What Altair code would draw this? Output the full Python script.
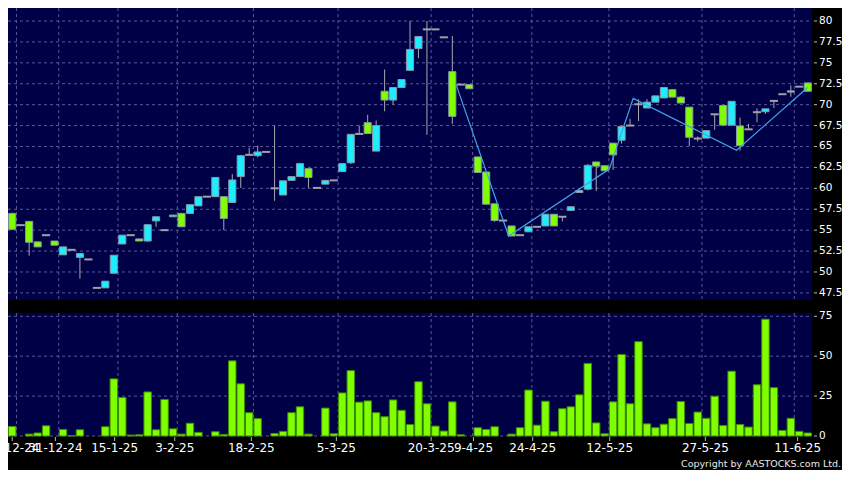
import altair as alt
import pandas as pd

# ---------------- data ----------------
opens = [57.0, 55.6, 56.05, 53.6, 54.4, 53.7, 52.05, 52.65, 51.75, 51.5,
         48.1, 48.1, 49.85, 53.35, 54.4, 53.95, 53.7, 56.1, 55.0, 56.6,
         57.0, 57.0, 57.9, 59.0, 59.0, 59.0, 58.3, 61.4, 64.0, 63.9,
         64.35, 60.0, 59.2, 60.95, 61.4, 62.35, 60.05, 60.5, 60.95, 62.0,
         63.05, 66.5, 67.85, 64.45, 71.6, 70.55, 72.05, 74.1, 76.7, 79.0,
         79.0, 78.05, 73.95, 72.4, 72.4, 63.75, 61.95, 58.15, 56.15, 55.5,
         54.4, 54.8, 55.4, 55.5, 56.9, 56.6, 57.35, 59.5, 59.9, 63.15,
         62.7, 65.4, 65.75, 67.5, 70.05, 69.6, 70.3, 70.8, 71.8, 70.9,
         69.7, 65.95, 66.0, 68.85, 69.9, 67.55, 67.45, 67.05, 69.1, 69.15,
         70.45, 71.25, 71.65, 72.15, 72.6]
closes = [55.1, 55.6, 53.55, 53.0, 54.4, 53.2, 53.0, 52.65, 52.2, 51.5,
          48.1, 48.9, 52.0, 54.4, 54.4, 53.7, 55.65, 56.6, 55.0, 56.8,
          55.4, 58.05, 59.0, 59.0, 61.3, 56.4, 61.0, 63.9, 64.0, 64.35,
          64.35, 60.0, 60.9, 61.4, 62.95, 61.3, 60.05, 60.95, 60.95, 62.95,
          66.45, 66.5, 66.55, 67.5, 70.55, 72.05, 73.0, 76.6, 78.15, 79.0,
          79.0, 78.05, 68.6, 72.4, 71.9, 61.9, 58.1, 56.15, 56.15, 54.3,
          54.4, 55.4, 55.4, 56.9, 55.5, 56.6, 57.8, 59.75, 62.75, 62.65,
          62.1, 64.0, 67.4, 67.5, 70.05, 70.3, 71.05, 72.05, 70.9, 70.2,
          66.1, 65.95, 66.9, 68.85, 67.55, 70.4, 65.1, 67.05, 69.1, 69.5,
          70.45, 71.25, 71.5, 72.15, 71.6]
highs = [57.1, 55.6, 56.05, 53.6, 54.4, 53.7, 53.0, 52.65, 52.2, 51.5,
         48.1, 48.9, 52.0, 54.4, 54.4, 53.95, 55.65, 56.6, 55.0, 56.8,
         57.0, 58.05, 59.0, 59.0, 61.3, 59.0, 61.7, 64.0, 64.85, 65.1,
         64.35, 67.5, 60.9, 61.4, 62.95, 62.35, 60.05, 60.95, 60.95, 62.95,
         66.45, 67.5, 68.8, 68.1, 74.2, 72.05, 73.0, 80.0, 78.15, 80.0,
         79.0, 78.05, 78.2, 72.4, 72.4, 63.75, 61.95, 58.15, 56.15, 55.5,
         54.4, 55.4, 55.4, 56.9, 56.9, 56.6, 57.8, 59.75, 62.9, 63.15,
         62.7, 65.4, 67.4, 68.3, 70.65, 70.65, 71.05, 72.05, 71.8, 71.0,
         69.7, 66.2, 66.9, 68.85, 69.9, 70.4, 68.45, 67.7, 69.55, 69.5,
         70.45, 71.25, 72.3, 72.15, 72.6]
lows = [55.0, 55.6, 51.95, 53.0, 54.4, 53.2, 52.05, 52.65, 49.2, 51.5,
        48.1, 48.1, 49.85, 53.35, 54.4, 53.7, 53.6, 55.4, 55.0, 56.6,
        55.4, 57.0, 57.9, 59.0, 59.0, 55.0, 58.3, 60.05, 64.0, 63.7,
        64.35, 58.5, 59.2, 60.95, 61.4, 60.05, 60.05, 60.5, 60.95, 62.0,
        62.9, 66.5, 66.55, 64.45, 69.2, 70.0, 72.05, 74.1, 75.55, 66.4,
        79.0, 78.05, 67.7, 72.4, 71.9, 61.9, 58.1, 56.0, 56.15, 54.3,
        54.4, 54.8, 55.4, 55.5, 55.5, 56.05, 57.35, 59.5, 59.75, 59.7,
        62.1, 62.2, 65.35, 67.5, 68.05, 69.6, 70.3, 70.8, 70.9, 70.2,
        65.05, 65.6, 66.0, 67.0, 67.55, 67.55, 64.5, 67.05, 67.9, 68.9,
        69.6, 71.25, 70.95, 72.15, 71.6]
volumes = [6.0, 0, 1.2, 1.9, 6.4, 0, 4.1, 0.2, 3.9, 0,
           0, 5.8, 35.8, 24.1, 0.6, 0.8, 27.6, 3.9, 22.9, 4.5,
           1.2, 8.0, 2.3, 0, 2.7, 1.0, 47.1, 32.7, 14.6, 10.9,
           0, 1.6, 2.9, 14.6, 18.3, 1.2, 0, 17.5, 1.4, 27.0,
           41.0, 21.2, 22.0, 14.6, 12.1, 22.6, 16.1, 7.2, 34.0, 20.2,
           6.2, 3.1, 21.4, 0.8, 0, 5.2, 4.1, 5.8, 0, 1.2,
           5.2, 28.8, 6.8, 21.8, 2.7, 17.1, 18.3, 25.8, 45.5, 8.2,
           1.4, 21.4, 51.1, 20.2, 59.1, 7.6, 5.2, 7.4, 10.9, 21.6,
           7.8, 15.0, 11.1, 24.9, 6.6, 40.6, 7.2, 5.6, 32.1, 73.2,
           30.3, 3.5, 11.1, 2.9, 1.9]

zigzag_x = [52.45, 58.65, 70.55, 73.37, 85.58, 93.98]
zigzag_y = [72.4, 54.3, 62.3, 70.75, 64.55, 72.05]

date_labels = ["17-12-24", "31-12-24", "15-1-25", "3-2-25", "18-2-25", "5-3-25",
               "20-3-25", "9-4-25", "24-4-25", "12-5-25", "27-5-25", "11-6-25"]
date_ticks = [0.0, 5.1, 12.1, 19.2, 28.25, 38.3, 49.5, 54.5, 61.5, 70.6, 81.9, 92.8]
date_grid = [0.5, 5.5, 12.5, 19.5, 28.5, 38.5, 49.5, 54.4, 61.4, 70.5, 81.5, 92.4]
price_ticks = [47.5, 50, 52.5, 55, 57.5, 60, 62.5, 65, 67.5, 70, 72.5, 75, 77.5, 80]
price_tick_labels = ["47.5", "50", "52.5", "55", "57.5", "60", "62.5", "65",
                     "67.5", "70", "72.5", "75", "77.5", "80"]
volume_ticks = [0, 25, 50, 75]
volume_tick_labels = ["0", "25", "50", "75"]

# ---------------- layout / style ----------------
W, H = 804, 428
PRICE_H = 292            # price panel height (px)
VOL_TOP = 305            # volume panel top (px)
P_PX = 8.366             # px per price unit
P_TOP = 80 + 13.0 / P_PX
P_MIN = P_TOP - H / P_PX
V_PX = 1.596             # px per volume unit
V_MAX = H / V_PX

NAVY = "#000046"
GRID = "#58589a"
CYAN = "#1ceeff"
GREEN = "#80ff00"
EDGE = "#8a98a8"
WICK = "#a8a8b0"
FLAT = "#a0a0a8"
ZZ = "#3fa6e6"
TICK = "#b8b8b8"
FONT = "DejaVu Sans"

n = len(opens)
df = pd.DataFrame({"i": list(range(n)), "open": opens, "close": closes,
                   "high": highs, "low": lows, "vol": volumes})
zz = pd.DataFrame({"k": list(range(len(zigzag_x))), "zx": zigzag_x, "zy": zigzag_y})
one = pd.DataFrame({"k": [0]})
grid_df = pd.DataFrame({"g": date_grid})
dates_df = pd.DataFrame({"p": date_ticks, "lab": date_labels})
pt_df = pd.DataFrame({"v": price_ticks, "lab": price_tick_labels})
vt_df = pd.DataFrame({"v": volume_ticks, "lab": volume_tick_labels})

xsc = alt.Scale(domain=[-0.5, n - 0.5], nice=False, zero=False)
psc = alt.Scale(domain=[P_MIN, P_TOP], nice=False, zero=False)
vsc = alt.Scale(domain=[0, V_MAX], nice=False, zero=False)
X = lambda f: alt.X(f, scale=xsc, axis=None)
YP = lambda f: alt.Y(f, scale=psc, axis=None)
YV = lambda f: alt.Y(f, scale=vsc, axis=None)
dash = dict(color=GRID, strokeDash=[3, 3], strokeWidth=1)

# ---------------- price panel ----------------
price_bg = alt.Chart(one).mark_rect(color=NAVY).encode(
    x=alt.value(0), x2=alt.value(W), y=alt.value(0), y2=alt.value(PRICE_H))
vgrid_p = alt.Chart(grid_df).mark_rule(**dash).encode(
    x=X("g:Q"), y=alt.value(0), y2=alt.value(PRICE_H))
hgrid_p = alt.Chart(pt_df).mark_rule(**dash).encode(
    y=YP("v:Q"), x=alt.value(0), x2=alt.value(W))
pticks = alt.Chart(pt_df).mark_rule(color=TICK, strokeWidth=1).encode(
    y=YP("v:Q"), x=alt.value(W + 2), x2=alt.value(W + 5))
plabels = alt.Chart(pt_df).mark_text(
    align="left", baseline="middle", font=FONT, fontSize=10.5, color="white").encode(
    y=YP("v:Q"), x=alt.value(W + 7), text="lab:N")
wicks = alt.Chart(df).transform_filter("datum.high > datum.low").mark_rule(
    color=WICK, strokeWidth=1).encode(
    x=X("i:Q"), y=YP("low:Q"), y2="high:Q")
bodies = alt.Chart(df).transform_filter("datum.open != datum.close").transform_calculate(
    x0="datum.i - 0.42", x1="datum.i + 0.42",
    col=f"datum.close > datum.open ? '{CYAN}' : '{GREEN}'").mark_rect(
    stroke=EDGE, strokeWidth=1).encode(
    x=X("x0:Q"), x2="x1:Q", y=YP("open:Q"), y2="close:Q",
    fill=alt.Fill("col:N", scale=None))
flats = alt.Chart(df).transform_filter("datum.open == datum.close").transform_calculate(
    x0="datum.i - 0.48", x1="datum.i + 0.48").mark_rule(
    color=FLAT, strokeWidth=2).encode(
    x=X("x0:Q"), x2="x1:Q", y=YP("open:Q"))
zigzag = alt.Chart(zz).mark_line(color=ZZ, strokeWidth=1.2).encode(
    x=X("zx:Q"), y=YP("zy:Q"), order="k:Q")

price_group = alt.layer(price_bg, vgrid_p, hgrid_p, pticks, plabels,
                        wicks, bodies, flats, zigzag)

# ---------------- volume panel ----------------
vol_bg = alt.Chart(one).mark_rect(color=NAVY).encode(
    x=alt.value(0), x2=alt.value(W), y=alt.value(VOL_TOP), y2=alt.value(H))
vgrid_v = alt.Chart(grid_df).mark_rule(**dash).encode(
    x=X("g:Q"), y=alt.value(VOL_TOP), y2=alt.value(H))
hgrid_v = alt.Chart(vt_df).mark_rule(**dash).encode(
    y=YV("v:Q"), x=alt.value(0), x2=alt.value(W))
vticks = alt.Chart(vt_df).mark_rule(color=TICK, strokeWidth=1).encode(
    y=YV("v:Q"), x=alt.value(W + 2), x2=alt.value(W + 5))
vlabels = alt.Chart(vt_df).mark_text(
    align="left", baseline="middle", font=FONT, fontSize=10.5, color="white").encode(
    y=YV("v:Q"), x=alt.value(W + 7), text="lab:N")
bars = alt.Chart(df).transform_filter("datum.vol > 0").transform_calculate(
    x0="datum.i - 0.44", x1="datum.i + 0.44").mark_rect(
    color=GREEN, stroke="#3c8a00", strokeWidth=1).encode(
    x=X("x0:Q"), x2="x1:Q", y=YV("vol:Q"), y2=alt.datum(0))

vol_group = alt.layer(vol_bg, vgrid_v, hgrid_v, vticks, vlabels, bars)

# ---------------- date axis & footer ----------------
xticks = alt.Chart(dates_df).mark_rule(color=TICK, strokeWidth=1).encode(
    x=X("p:Q"), y=alt.value(H + 1), y2=alt.value(H + 5))
xlabels = alt.Chart(dates_df).mark_text(
    align="center", baseline="top", font=FONT, fontSize=12, color="white").encode(
    x=X("p:Q"), y=alt.value(H + 7), text="lab:N")
copyright_txt = alt.Chart(one).mark_text(
    text="Copyright by AASTOCKS.com Ltd.", align="right", baseline="alphabetic",
    font=FONT, fontSize=9.5, color="#e8e8e8").encode(
    x=alt.value(833), y=alt.value(459))

chart = alt.layer(price_group, vol_group, xticks, xlabels, copyright_txt).resolve_scale(
    y="independent").properties(
    width=W, height=H, background="black",
    autosize=alt.AutoSizeParams(type="none"),
    padding={"left": 0, "top": 0, "right": 30, "bottom": 34}).configure_view(stroke=None)

chart.save("out.html", embed_options={"renderer": "svg", "actions": False})
